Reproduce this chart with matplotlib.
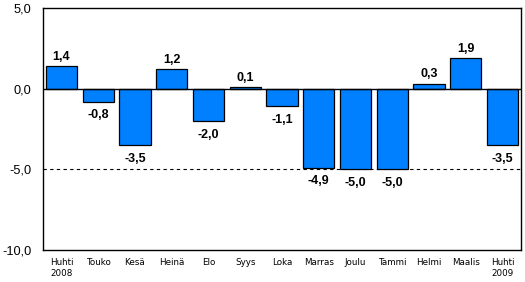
import matplotlib
matplotlib.use("Agg")
import matplotlib.pyplot as plt

categories = ["Huhti\n2008", "Touko", "Kesä", "Heinä", "Elo", "Syys", "Loka",
              "Marras", "Joulu", "Tammi", "Helmi", "Maalis", "Huhti\n2009"]
values = [1.4, -0.8, -3.5, 1.2, -2.0, 0.1, -1.1, -4.9, -5.0, -5.0, 0.3, 1.9, -3.5]
yticks = [5.0, 0.0, -5.0, -10.0]

plt.rcParams['font.family'] = ['Liberation Sans', 'DejaVu Sans']

fig = plt.figure(figsize=(5.25, 2.82), dpi=100)
ax = fig.add_axes([43/525, 1 - 250/282, (521-43)/525, (250-8)/282])

x = list(range(len(values)))
ax.bar(x, values, width=0.85, color="#0080FF", edgecolor="black", linewidth=0.9, zorder=3)
ax.axhline(0, color="black", linewidth=1.0, zorder=4)
ax.axhline(-5, color="black", linewidth=0.8, linestyle=(0, (3, 3)), zorder=2)

for xi, v in zip(x, values):
    lbl = f"{v:.1f}".replace(".", ",")
    if v >= 0:
        ax.annotate(lbl, (xi, v), xytext=(0, 2.5), textcoords="offset points",
                    ha="center", va="bottom", fontsize=9, fontweight="bold")
    else:
        ax.annotate(lbl, (xi, v), xytext=(0, -5.5), textcoords="offset points",
                    ha="center", va="top", fontsize=9, fontweight="bold")

ax.set_xlim(-0.5, len(values) - 0.5)
ax.set_ylim(-10, 5)
ax.set_yticks(yticks)
ax.set_yticklabels([f"{t:.1f}".replace(".", ",") for t in yticks], fontsize=9.2)
ax.set_xticks(x)
ax.set_xticklabels(categories, fontsize=6.3, family=["DejaVu Sans"])
ax.tick_params(length=0, pad=6)
ax.tick_params(axis="y", pad=8.5)
for s in ax.spines.values():
    s.set_color("black")
    s.set_linewidth(1.0)

fig.savefig("out.png", dpi=100)
